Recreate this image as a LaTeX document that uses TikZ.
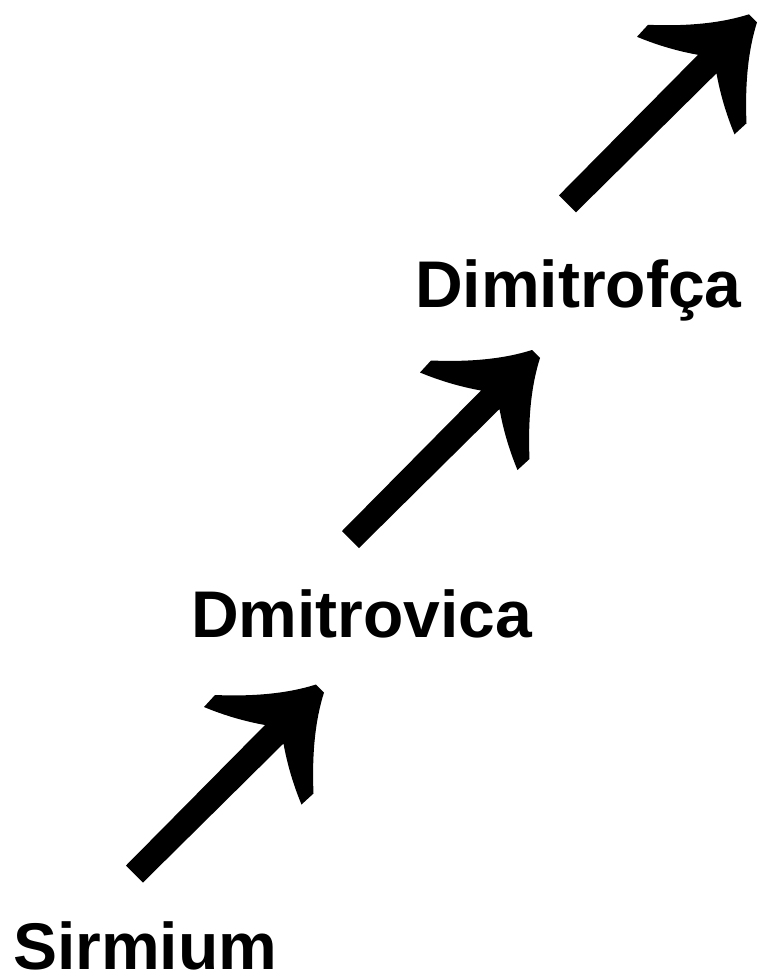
\documentclass[tikz,border=0pt]{standalone}
\usepackage{fontspec}
\setmainfont{Liberation Sans}
\begin{document}
\begin{tikzpicture}[x=1pt,y=-1pt,
  lbl/.style={inner sep=0pt,anchor=base west,font=\bfseries\fontsize{66}{66}\selectfont},
  bigarrow/.pic={
    \fill[black] (-4,-4) .. controls (-31.3,4.7) and (-65,8.2) .. (-105,6.5)
      -- (-116,18.5) .. controls (-96,26.8) and (-75.7,32.8) .. (-55,36.5)
      -- (-194,177) -- (-177,194) -- (-36.5,55)
      .. controls (-32.8,75.7) and (-26.8,96) .. (-18.5,116)
      -- (-6.5,105) .. controls (-8.2,65) and (-4.7,31.3) .. (4,4) -- cycle;
  }]
\useasboundingbox[fill=white] (0,0) rectangle (758,977);
\node[lbl] (sirmium) at (13,969) {Sirmium};
\node[lbl] (dmitrovica) at (191,637) {Dmitrovica};
\node[lbl] (dimitrofca) at (415,307) {Dimitrofça};
\coordinate (tip1) at (320,688.5);
\coordinate (tip2) at (536,354);
\coordinate (tip3) at (753,18.3);
\pic at (tip1) {bigarrow};
\pic at (tip2) {bigarrow};
\pic at (tip3) {bigarrow};
\end{tikzpicture}
\end{document}
